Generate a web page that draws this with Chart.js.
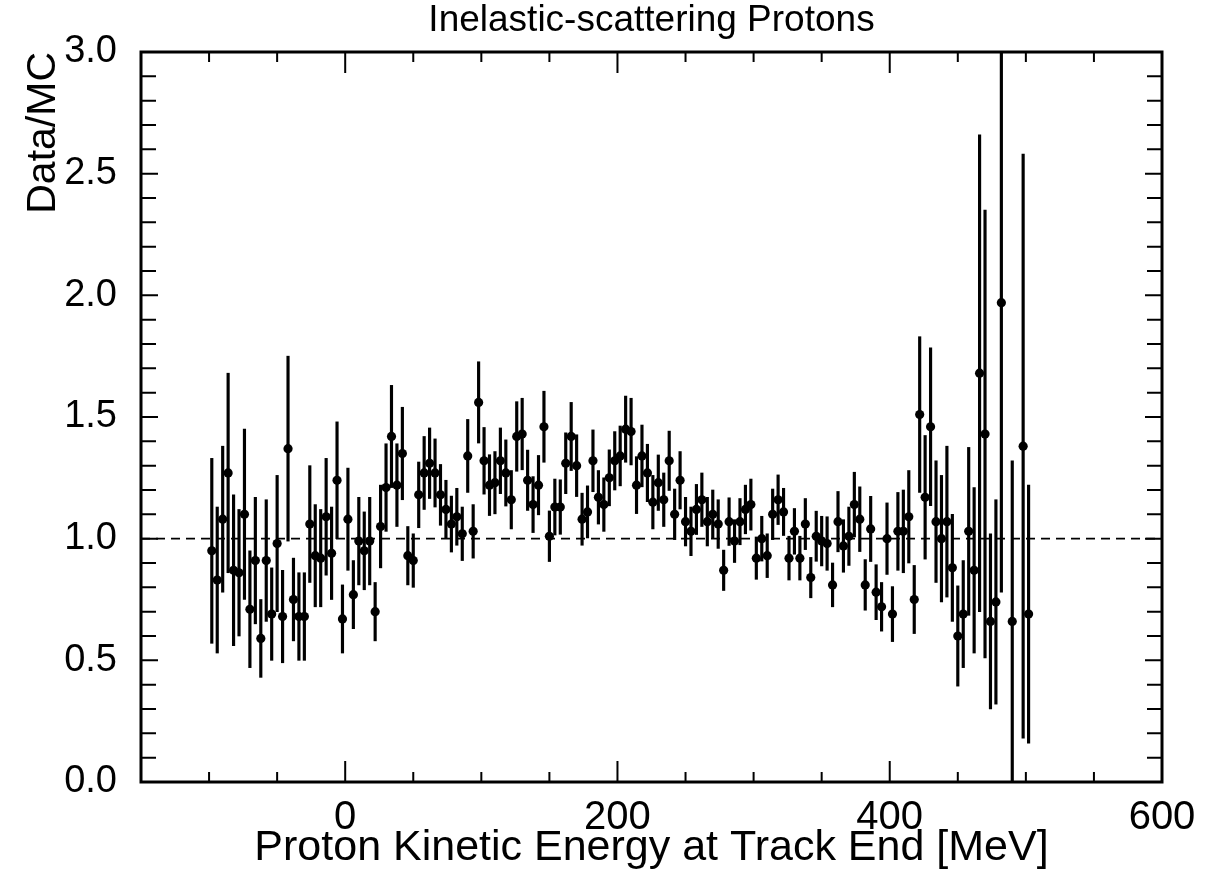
<!DOCTYPE html>
<html lang="en">
<head>
    <meta charset="utf-8" />
    <title>Inelastic-scattering Protons</title>
    <style>
        html, body {
            margin: 0;
            padding: 0;
            background: #fff;
        }

        .plot {
            width: 1218px;
            height: 878px;
        }
    </style>
</head>
<body>
    <div class="plot">
        <canvas id="ratio"></canvas>
    </div>

    <script src="https://cdn.jsdelivr.net/npm/chart.js@4.4.1/dist/chart.umd.min.js"></script>
    <script>
        // bin centres [MeV] (bins 486 and 494 are empty)
        const energy = [
            -98, -94, -90, -86, -82, -78, -74, -70, -66, -62,
            -58, -54, -50, -46, -42, -38, -34, -30, -26, -22,
            -18, -14, -10, -6, -2, 2, 6, 10, 14, 18,
            22, 26, 30, 34, 38, 42, 46, 50, 54, 58,
            62, 66, 70, 74, 78, 82, 86, 90, 94, 98,
            102, 106, 110, 114, 118, 122, 126, 130, 134, 138,
            142, 146, 150, 154, 158, 162, 166, 170, 174, 178,
            182, 186, 190, 194, 198, 202, 206, 210, 214, 218,
            222, 226, 230, 234, 238, 242, 246, 250, 254, 258,
            262, 266, 270, 274, 278, 282, 286, 290, 294, 298,
            302, 306, 310, 314, 318, 322, 326, 330, 334, 338,
            342, 346, 350, 354, 358, 362, 366, 370, 374, 378,
            382, 386, 390, 394, 398, 402, 406, 410, 414, 418,
            422, 426, 430, 434, 438, 442, 446, 450, 454, 458,
            462, 466, 470, 474, 478, 482, 490, 498, 502
        ];

        // Data/MC per bin
        const ratio = [
            0.95, 0.83, 1.08, 1.27, 0.87, 0.86, 1.10, 0.71, 0.91, 0.59,
            0.91, 0.69, 0.98, 0.68, 1.37, 0.75, 0.68, 0.68, 1.06, 0.93,
            0.92, 1.09, 0.94, 1.24, 0.67, 1.08, 0.77, 0.99, 0.95, 0.99,
            0.70, 1.05, 1.21, 1.42, 1.22, 1.35, 0.93, 0.91, 1.18, 1.27,
            1.31, 1.27, 1.18, 1.12, 1.06, 1.09, 1.02, 1.34, 1.03, 1.56,
            1.32, 1.22, 1.23, 1.32, 1.27, 1.16, 1.42, 1.43, 1.24, 1.14,
            1.22, 1.46, 1.01, 1.13, 1.13, 1.31, 1.42, 1.30, 1.08, 1.11,
            1.32, 1.17, 1.14, 1.25, 1.32, 1.34, 1.45, 1.44, 1.22, 1.34,
            1.27, 1.15, 1.23, 1.16, 1.32, 1.10, 1.24, 1.07, 1.03, 1.12,
            1.16, 1.07, 1.10, 1.06, 0.87, 1.07, 0.99, 1.07, 1.12, 1.14,
            0.92, 1.00, 0.93, 1.10, 1.16, 1.11, 0.92, 1.03, 0.92, 1.06,
            0.84, 1.01, 0.99, 0.98, 0.81, 1.07, 0.97, 1.01, 1.14, 1.08,
            0.81, 1.04, 0.78, 0.72, 1.00, 0.69, 1.03, 1.03, 1.09, 0.75,
            1.51, 1.17, 1.46, 1.07, 1.00, 1.07, 0.88, 0.60, 0.69, 1.03,
            0.87, 1.68, 1.43, 0.66, 0.74, 1.97, 0.66, 1.38, 0.69
        ];

        // statistical error per bin
        const ratioErr = [
            0.38, 0.30, 0.30, 0.41, 0.31, 0.26, 0.35, 0.24, 0.26, 0.16,
            0.25, 0.19, 0.28, 0.19, 0.38, 0.17, 0.18, 0.18, 0.24, 0.21,
            0.20, 0.24, 0.19, 0.24, 0.14, 0.21, 0.14, 0.18, 0.16, 0.18,
            0.12, 0.17, 0.18, 0.21, 0.17, 0.19, 0.12, 0.11, 0.135, 0.15,
            0.145, 0.14, 0.125, 0.12, 0.115, 0.117, 0.11, 0.15, 0.11, 0.167,
            0.137, 0.125, 0.128, 0.135, 0.136, 0.12, 0.143, 0.147, 0.124, 0.115,
            0.122, 0.146, 0.104, 0.115, 0.112, 0.125, 0.14, 0.127, 0.107, 0.107,
            0.127, 0.11, 0.11, 0.115, 0.12, 0.123, 0.136, 0.137, 0.117, 0.127,
            0.118, 0.11, 0.114, 0.11, 0.122, 0.104, 0.118, 0.10, 0.10, 0.103,
            0.11, 0.10, 0.10, 0.10, 0.083, 0.098, 0.088, 0.095, 0.10, 0.105,
            0.087, 0.092, 0.09, 0.104, 0.102, 0.097, 0.09, 0.094, 0.09, 0.105,
            0.083, 0.103, 0.102, 0.11, 0.09, 0.124, 0.108, 0.12, 0.133, 0.133,
            0.104, 0.134, 0.113, 0.10, 0.147, 0.113, 0.16, 0.17, 0.19, 0.14,
            0.32, 0.254, 0.324, 0.25, 0.26, 0.31, 0.22, 0.206, 0.22, 0.345,
            0.34, 0.98, 0.92, 0.36, 0.42, 1.19, 0.66, 1.20, 0.53
        ];

        const xTickValues = [0, 200, 400, 600];
        const yTickValues = [0, 0.5, 1, 1.5, 2, 2.5, 3];
        const unityX = [-150, 600];
        const unityY = 1;

        Chart.defaults.font.family = "'Liberation Sans', Arial, Helvetica, sans-serif";
        Chart.defaults.color = '#000';

        // ROOT style frame with inward major/minor ticks on all four sides
        const frameTicks = {
            id: 'frameTicks',
            afterDatasetsDraw(chart) {
                const { ctx, chartArea: a, scales: { x, y } } = chart;
                ctx.save();
                ctx.strokeStyle = '#000';
                ctx.lineWidth = 2;
                ctx.beginPath();
                for (let v = -150; v <= 600; v += 50) {
                    const px = x.getPixelForValue(v);
                    const len = v % 200 === 0 ? 21 : 10;
                    ctx.moveTo(px, a.bottom);
                    ctx.lineTo(px, a.bottom - len);
                    ctx.moveTo(px, a.top);
                    ctx.lineTo(px, a.top + len);
                }
                for (let i = 0; i <= 30; i++) {
                    const py = y.getPixelForValue(i / 10);
                    const len = i % 5 === 0 ? 17 : 15;
                    ctx.moveTo(a.left, py);
                    ctx.lineTo(a.left + len, py);
                    ctx.moveTo(a.right, py);
                    ctx.lineTo(a.right - len, py);
                }
                ctx.stroke();
                ctx.lineWidth = 3;
                ctx.strokeRect(a.left, a.top, a.right - a.left, a.bottom - a.top);
                ctx.restore();
            }
        };

        const points = energy.map((e, i) => ({ x: e, y: ratio[i] }));
        const errorBars = energy.map((e, i) => ({
            x: e,
            y: [Math.max(0, ratio[i] - ratioErr[i]), ratio[i] + ratioErr[i]]
        }));

        new Chart(document.getElementById('ratio'), {
            type: 'scatter',
            data: {
                datasets: [{
                    type: 'line',
                    data: unityX.map(v => ({ x: v, y: unityY })),
                    borderColor: '#000',
                    borderWidth: 1.6,
                    borderDash: [9, 6],
                    pointRadius: 0,
                    order: 3
                }, {
                    type: 'bar',
                    data: errorBars,
                    backgroundColor: '#000',
                    barThickness: 2.5,
                    order: 2
                }, {
                    data: points,
                    pointRadius: 4.6,
                    pointHoverRadius: 4.6,
                    backgroundColor: '#000',
                    borderWidth: 0,
                    order: 1
                }]
            },
            options: {
                responsive: true,
                maintainAspectRatio: false,
                animation: false,
                layout: {
                    padding: { left: 0, right: 56, top: 0, bottom: 0 }
                },
                plugins: {
                    legend: { display: false },
                    tooltip: { enabled: false },
                    title: { display: false }
                },
                scales: {
                    x: {
                        type: 'linear',
                        min: -150,
                        max: 600,
                        offset: false,
                        grid: { display: false },
                        border: { display: false },
                        afterBuildTicks: s => { s.ticks = xTickValues.map(v => ({ value: v })); },
                        afterFit: s => { s.height = 96; },
                        ticks: {
                            font: { size: 40 },
                            padding: 4,
                            maxRotation: 0,
                            autoSkip: false
                        },
                        title: {
                            display: true,
                            text: 'Proton Kinetic Energy at Track End [MeV]',
                            font: { size: 43 },
                            padding: { top: 0, bottom: 4 }
                        }
                    },
                    // top axis only carries the plot title, centred over the frame
                    xTop: {
                        type: 'linear',
                        position: 'top',
                        min: -150,
                        max: 600,
                        offset: false,
                        grid: { display: false },
                        border: { display: false },
                        ticks: { display: false },
                        afterFit: s => { s.height = 52; },
                        title: {
                            display: true,
                            text: 'Inelastic-scattering Protons',
                            font: { size: 37, lineHeight: 1 },
                            padding: { top: 2, bottom: 0 }
                        }
                    },
                    y: {
                        type: 'linear',
                        min: 0,
                        max: 3,
                        grid: { display: false },
                        border: { display: false },
                        afterBuildTicks: s => { s.ticks = yTickValues.map(v => ({ value: v })); },
                        afterFit: s => { s.width = 141; },
                        ticks: {
                            font: { size: 38 },
                            padding: 16,
                            callback: v => v.toFixed(1)
                        },
                        title: {
                            display: true,
                            text: 'Data/MC',
                            align: 'end',
                            font: { size: 41 },
                            padding: { top: 19, bottom: 0 }
                        }
                    }
                }
            },
            plugins: [frameTicks]
        });
    </script>
</body>
</html>
